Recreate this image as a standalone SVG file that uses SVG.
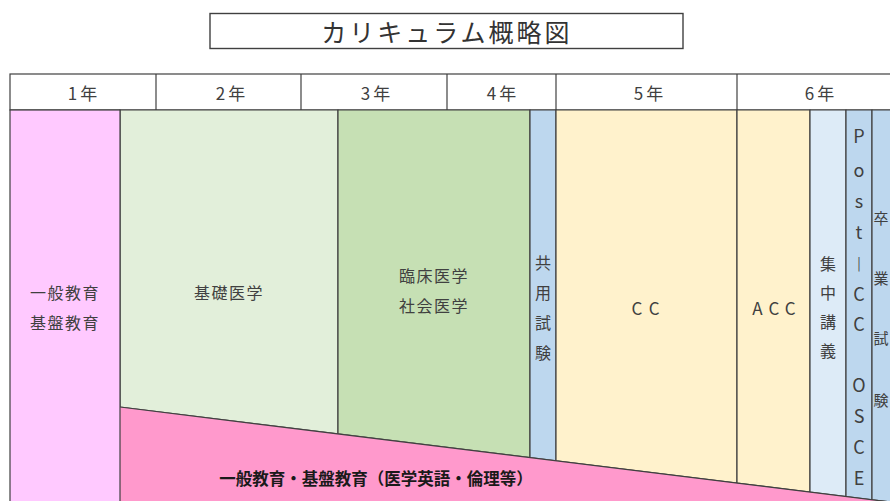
<svg xmlns="http://www.w3.org/2000/svg" width="890" height="501" viewBox="0 0 890 501">
<style>
text{font-family:"Noto Sans CJK JP","Noto Sans",sans-serif;fill:#404040;}
.hd{font-size:17px;text-anchor:middle;dominant-baseline:central;letter-spacing:3px;}
.lb{font-size:16px;text-anchor:middle;dominant-baseline:central;letter-spacing:1.5px;}
.vt{font-size:16px;text-anchor:middle;dominant-baseline:central;}
.pc{font-size:18px;text-anchor:middle;dominant-baseline:central;}
.ln{stroke:#404040;stroke-width:1.2;fill:none;}
.cell{stroke:#404040;stroke-width:1.2;}
</style>
<rect width="890" height="501" fill="#ffffff"/>

<g id="title">
<rect x="210" y="13.5" width="473" height="35" fill="#ffffff" stroke="#404040" stroke-width="1.4"/>
<text x="447" y="31" style="font-size:25px;text-anchor:middle;dominant-baseline:central;letter-spacing:3px;fill:#333">カリキュラム概略図</text>
</g>

<g id="header">
<rect x="10" y="74" width="890" height="36" fill="#ffffff" class="cell"/>
<line class="ln" x1="156" y1="74" x2="156" y2="110"/>
<line class="ln" x1="301" y1="74" x2="301" y2="110"/>
<line class="ln" x1="447" y1="74" x2="447" y2="110"/>
<line class="ln" x1="556" y1="74" x2="556" y2="110"/>
<line class="ln" x1="737" y1="74" x2="737" y2="110"/>
<text class="hd" x="84" y="92">1年</text>
<text class="hd" x="232" y="92">2年</text>
<text class="hd" x="377" y="92">3年</text>
<text class="hd" x="503" y="92">4年</text>
<text class="hd" x="650" y="92">5年</text>
<text class="hd" x="821" y="92">6年</text>
</g>

<g id="kiso">
<polygon points="120,110 338,110 338,433.9 120,407" fill="#E2EFDA" class="cell"/>
<text class="lb" x="229" y="292">基礎医学</text>
</g>
<g id="rinsho">
<polygon points="338,110 530,110 530,457.6 338,433.9" fill="#C6E0B4" class="cell"/>
<text class="lb" x="434" y="275">臨床医学</text>
<text class="lb" x="434" y="305">社会医学</text>
</g>
<g id="kyoyo">
<polygon points="530,110 556,110 556,460.8 530,457.6" fill="#BDD7EE" class="cell"/>
<text class="vt" x="543" y="262">共</text>
<text class="vt" x="543" y="292">用</text>
<text class="vt" x="543" y="322">試</text>
<text class="vt" x="543" y="352">験</text>
</g>
<g id="cc">
<polygon points="556,110 737,110 737,483.1 556,460.8" fill="#FFF2CC" class="cell"/>
<text class="lb" x="649" y="307" style="font-size:17px;letter-spacing:7px">CC</text>
</g>
<g id="acc">
<polygon points="737,110 810,110 810,492.1 737,483.1" fill="#FFF2CC" class="cell"/>
<text class="lb" x="777" y="307" style="font-size:17px;letter-spacing:6px">ACC</text>
</g>
<g id="shuchu">
<polygon points="810,110 846,110 846,496.6 810,492.1" fill="#DDEBF7" class="cell"/>
<text class="vt" x="828" y="263">集</text>
<text class="vt" x="828" y="292">中</text>
<text class="vt" x="828" y="321">講</text>
<text class="vt" x="828" y="350">義</text>
</g>
<g id="postcc">
<polygon points="846,110 872,110 872,499.8 846,496.6" fill="#BDD7EE" class="cell"/>
<text class="pc" x="859" y="135">P</text>
<text class="pc" x="859" y="169">o</text>
<text class="pc" x="859" y="200">s</text>
<text class="pc" x="859" y="231">t</text>
<text class="pc" x="859" y="262" style="font-size:13px">|</text>
<text class="pc" x="859" y="293">C</text>
<text class="pc" x="859" y="323">C</text>
<text class="pc" x="859" y="384">O</text>
<text class="pc" x="859" y="415">S</text>
<text class="pc" x="859" y="446">C</text>
<text class="pc" x="859" y="477">E</text>
</g>
<g id="sotsugyo">
<polygon points="872,110 900,110 900,503 872,499.8" fill="#BDD7EE" class="cell"/>
<text class="vt" x="881" y="217" style="font-size:15px">卒</text>
<text class="vt" x="881" y="277" style="font-size:15px">業</text>
<text class="vt" x="881" y="337" style="font-size:15px">試</text>
<text class="vt" x="881" y="399" style="font-size:15px">験</text>
</g>

<g id="ippan-bottom">
<polygon points="120,407 900,503.2 900,510 120,510" fill="#FF99CC"/>
<line class="ln" x1="120" y1="407" x2="900" y2="503.2"/>
<text x="376" y="478" style="font-size:16.5px;font-weight:bold;text-anchor:middle;dominant-baseline:central;fill:#1a1a1a">一般教育・基盤教育（医学英語・倫理等）</text>
</g>

<g id="ippan">
<rect x="10" y="110" width="110" height="400" fill="#FFC9FF" class="cell"/>
<text class="lb" x="65" y="292">一般教育</text>
<text class="lb" x="65" y="322">基盤教育</text>
</g>

<g id="connectors"></g>
</svg>
